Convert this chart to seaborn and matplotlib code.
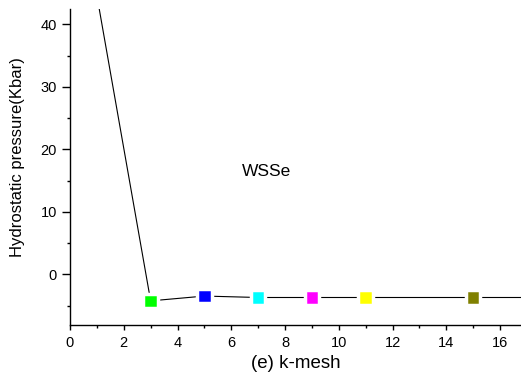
import matplotlib
matplotlib.use("Agg")
import matplotlib.pyplot as plt
from matplotlib.ticker import MultipleLocator
import seaborn as sns
import pandas as pd

# k-mesh convergence of hydrostatic pressure for WSSe
k_mesh = [1, 3, 5, 7, 9, 11, 15, 19]
pressure = [44.6, -4.24, -3.47, -3.7, -3.7, -3.7, -3.7, -3.7]
point_colors = ["#FF0000", "#00FF00", "#0000FF", "#00FFFF",
                "#FF00FF", "#FFFF00", "#808000", "#000080"]

x_ticks = [0, 2, 4, 6, 8, 10, 12, 14, 16]
y_ticks = [0, 10, 20, 30, 40]
x_label = "(e) k-mesh"
y_label = "Hydrostatic pressure(Kbar)"
material = "WSSe"

df = pd.DataFrame({"k": k_mesh, "P": pressure,
                   "id": [str(k) for k in k_mesh]})

sns.set_theme(style="ticks")
plt.rcParams["font.family"] = ["Liberation Sans", "DejaVu Sans"]

fig = plt.figure(figsize=(5.21, 3.81), dpi=100)
ax = fig.add_axes([70 / 521, 1 - 325 / 381, 1 - 70 / 521, (325 - 9) / 381])

sns.lineplot(data=df, x="k", y="P", sort=False, estimator=None,
             color="black", linewidth=0.8, ax=ax, zorder=2)
sns.scatterplot(data=df, x="k", y="P", hue="id",
                palette=point_colors, marker="s", s=10.4 ** 2,
                edgecolor="white", linewidth=2.5, legend=False,
                ax=ax, zorder=3, clip_on=True)

ax.set_xlim(0, 16.78)
ax.set_ylim(-8.1, 42.45)
ax.set_xticks(x_ticks)
ax.set_yticks(y_ticks)
ax.xaxis.set_minor_locator(MultipleLocator(1))
ax.yaxis.set_minor_locator(MultipleLocator(5))

for side in ("top", "right"):
    ax.spines[side].set_visible(False)
for side in ("left", "bottom"):
    ax.spines[side].set_linewidth(1.0)
    ax.spines[side].set_color("black")

ax.tick_params(axis="both", which="major", direction="out", width=1.0,
               color="black", labelsize=10.5, labelcolor="black")
ax.tick_params(axis="y", which="major", length=5.5, pad=4)
ax.tick_params(axis="x", which="major", length=3.8, pad=4)
ax.tick_params(axis="both", which="minor", direction="out", width=1.0,
               length=2.4, color="black")

ax.set_xlabel(x_label, fontsize=13.5, color="black", labelpad=4)
ax.set_ylabel(y_label, fontsize=12, color="black")
ax.yaxis.set_label_coords(-0.1, 0.53)

ax.text(7.3, 16.4, material, fontsize=12.5, color="black",
        ha="center", va="center")

fig.savefig("out.png", dpi=100)
